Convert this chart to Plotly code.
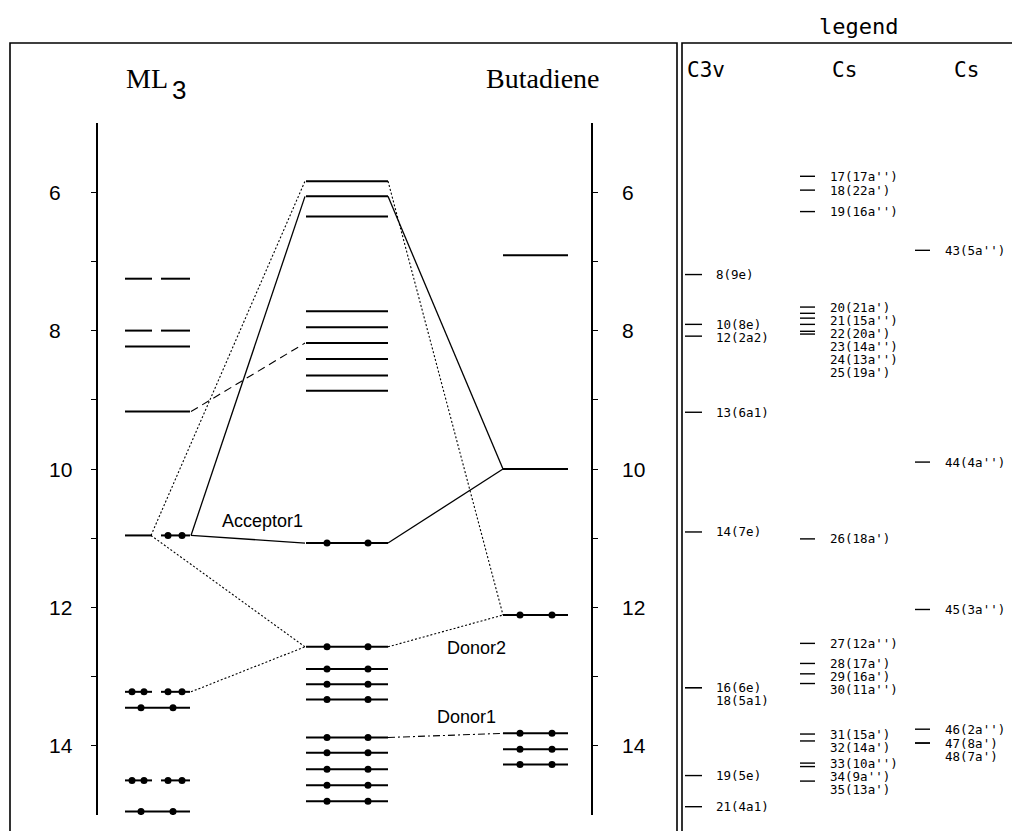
import plotly.graph_objects as go

W, H = 1012, 831

# ---------------- data ----------------
# ML3 fragment orbitals (energy, degenerate e-pair?, electrons)
ml3_energy = [7.25, 8.00, 8.23, 9.17, 10.96, 13.22, 13.45, 14.50, 14.95]
ml3_degenerate = [True, True, False, False, True, True, False, True, False]
ml3_electrons = [0, 0, 0, 0, 2, 4, 2, 4, 2]

# complex orbitals (middle column)
complex_energy = [5.84, 6.06, 6.35, 7.72, 7.95, 8.18, 8.41, 8.65, 8.87,
                  11.07, 12.57, 12.89, 13.11, 13.33, 13.88, 14.10, 14.34, 14.57, 14.80]
complex_electrons = [0, 0, 0, 0, 0, 0, 0, 0, 0,
                     2, 2, 2, 2, 2, 2, 2, 2, 2, 2]

# butadiene fragment orbitals
butadiene_energy = [6.91, 10.00, 12.11, 13.82, 14.05, 14.27]
butadiene_electrons = [0, 0, 2, 2, 2, 2]

axis_ticks = [6, 8, 10, 12, 14]
minor_ticks = [7, 9, 11, 13]

# correlation lines: (col, level, side) -> (col, level, side), style
correlations = [
    ("ml3", 4, "inner", "cx", 0, "left", "dot"),
    ("ml3", 4, "inner", "cx", 10, "left", "dot"),
    ("ml3", 4, "right", "cx", 1, "left", "solid"),
    ("ml3", 4, "right", "cx", 9, "left", "solid"),
    ("cx", 9, "right", "bd", 1, "left", "solid"),
    ("cx", 1, "right", "bd", 1, "left", "solid"),
    ("cx", 0, "right", "bd", 2, "left", "dot"),
    ("cx", 10, "right", "bd", 2, "left", "dot"),
    ("ml3", 5, "right", "cx", 10, "left", "dot"),
    ("cx", 14, "right", "bd", 3, "left", "dashdot"),
    ("ml3", 3, "right", "cx", 5, "left", "dash"),
]

orbital_labels = ["Acceptor1", "Donor2", "Donor1"]
orbital_label_energy = [10.75, 12.59, 13.59]

# legend columns
legend_title = "legend"
group_headers = ["C3v", "Cs", "Cs"]
c3v_labels = ["8(9e)", "10(8e)", "12(2a2)", "13(6a1)", "14(7e)", "16(6e)",
              "18(5a1)", "19(5e)", "21(4a1)"]
c3v_energy = [7.19, 7.91, 8.08, 9.18, 10.91, 13.16, 13.16, 14.43, 14.88]
cs1_labels = ["17(17a'')", "18(22a')", "19(16a'')", "20(21a')", "21(15a'')",
              "22(20a')", "23(14a'')", "24(13a'')", "25(19a')", "26(18a')",
              "27(12a'')", "28(17a')", "29(16a')", "30(11a'')", "31(15a')",
              "32(14a')", "33(10a'')", "34(9a'')", "35(13a')"]
cs1_energy = [5.77, 5.97, 6.28, 7.66, 7.75, 7.82, 7.91, 8.01, 8.05, 11.01,
              12.52, 12.81, 12.96, 13.10, 13.83, 13.93, 14.25, 14.30, 14.51]
cs2_labels = ["43(5a'')", "44(4a'')", "45(3a'')", "46(2a'')", "47(8a')", "48(7a')"]
cs2_energy = [6.84, 9.90, 12.03, 13.76, 13.96, 13.96]

# ---------------- layout constants (pixels) ----------------
ML3_X = (125, 190)
ML3_SPLIT = ((125, 152), (161, 190))
ML3_PAIR_DOTS = ((132, 144), (168, 182))
ML3_SINGLE_DOTS = (141, 173)
CX_X = (306, 388)
CX_DOTS = (327, 368)
BD_X = (503, 568)
BD_DOTS = (520, 552)
ANCHOR_X = {("ml3", "inner"): 151, ("ml3", "right"): 191,
            ("cx", "left"): 305, ("cx", "right"): 388,
            ("bd", "left"): 503}
ENERGY = {"ml3": ml3_energy, "cx": complex_energy, "bd": butadiene_energy}
DASHES = {"solid": "solid", "dot": "2px,2px", "dash": "8px,5px",
          "dashdot": "7px,3px,2px,3px"}
LABEL_POS_X = [262, 476, 466]
LEG_DASH_X = [(685, 702), (800, 815), (915, 930)]
LEG_TEXT_X = [714, 828, 943]
LEG_HEAD_X = [685, 830, 952]
LABEL_GAP = 0.19

AX_TOP, AX_BOT = 123, 815
E_TOP, E_BOT = 5.0, 15.0


def py(p):
    return 1 - p / H


def px(p):
    return p / W


fig = go.Figure()

# ---------- level lines ----------
lx, ly = [], []
dx, dy = [], []
for e, deg, n in zip(ml3_energy, ml3_degenerate, ml3_electrons):
    if deg:
        for seg in ML3_SPLIT:
            lx += [seg[0], seg[1], None]
            ly += [e, e, None]
        if n == 4:
            for pair in ML3_PAIR_DOTS:
                dx += list(pair); dy += [e, e]
        elif n == 2:
            dx += list(ML3_PAIR_DOTS[1]); dy += [e, e]
    else:
        lx += [ML3_X[0], ML3_X[1], None]
        ly += [e, e, None]
        if n == 2:
            dx += list(ML3_SINGLE_DOTS); dy += [e, e]

for e, n in zip(complex_energy, complex_electrons):
    lx += [CX_X[0], CX_X[1], None]
    ly += [e, e, None]
    if n == 2:
        dx += list(CX_DOTS); dy += [e, e]

for e, n in zip(butadiene_energy, butadiene_electrons):
    lx += [BD_X[0], BD_X[1], None]
    ly += [e, e, None]
    if n == 2:
        dx += list(BD_DOTS); dy += [e, e]

# ---------- correlation lines ----------
for c1, i1, s1, c2, i2, s2, style in correlations:
    fig.add_trace(go.Scatter(
        x=[ANCHOR_X[(c1, s1)], ANCHOR_X[(c2, s2)]],
        y=[ENERGY[c1][i1], ENERGY[c2][i2]],
        mode="lines",
        line=dict(color="black", width=1.1 if style != "solid" else 1.3,
                  dash=DASHES[style]),
        hoverinfo="skip", showlegend=False))

fig.add_trace(go.Scatter(x=lx, y=ly, mode="lines",
                         line=dict(color="black", width=2),
                         hoverinfo="skip", showlegend=False))
fig.add_trace(go.Scatter(x=dx, y=dy, mode="markers",
                         marker=dict(color="black", size=7),
                         hoverinfo="skip", showlegend=False))

# ---------- legend panel ----------
annotations = []
legend_groups = [(c3v_labels, c3v_energy), (cs1_labels, cs1_energy),
                 (cs2_labels, cs2_energy)]
gx, gy = [], []
for k, (labels, energies) in enumerate(legend_groups):
    prev = None
    for lab, e in zip(labels, energies):
        gx += [LEG_DASH_X[k][0], LEG_DASH_X[k][1], None]
        gy += [e, e, None]
        le = e if prev is None else max(e, prev + LABEL_GAP)
        prev = le
        annotations.append(dict(x=LEG_TEXT_X[k], y=le, xref="x", yref="y",
                                text=lab, showarrow=False, xanchor="left",
                                yanchor="middle",
                                font=dict(family="DejaVu Sans Mono", size=12.5,
                                          color="black")))
    annotations.append(dict(x=px(LEG_HEAD_X[k]), y=py(70), xref="paper",
                            yref="paper", text=group_headers[k],
                            showarrow=False, xanchor="left", yanchor="middle",
                            font=dict(family="DejaVu Sans Mono", size=21,
                                      color="black")))
fig.add_trace(go.Scatter(x=gx, y=gy, mode="lines",
                         line=dict(color="black", width=1.4),
                         hoverinfo="skip", showlegend=False))

annotations.append(dict(x=px(817), y=py(26), xref="paper", yref="paper",
                        text=legend_title, showarrow=False, xanchor="left",
                        yanchor="middle",
                        font=dict(family="DejaVu Sans Mono", size=22,
                                  color="black")))

# orbital labels
for t, e, x in zip(orbital_labels, orbital_label_energy, LABEL_POS_X):
    annotations.append(dict(x=x, y=e, xref="x", yref="y", text=t,
                            showarrow=False, xanchor="center",
                            yanchor="middle",
                            font=dict(family="Liberation Sans", size=18,
                                      color="black")))

# tick labels (left-aligned like the original)
for t in axis_ticks:
    for xl in (47, 620):
        annotations.append(dict(x=xl, y=t, xref="x", yref="y", text=str(t),
                                showarrow=False, xanchor="left",
                                yanchor="middle",
                                font=dict(family="Liberation Sans", size=21,
                                          color="black")))

# titles
annotations.append(dict(x=px(124), y=py(78), xref="paper", yref="paper",
                        text="ML", showarrow=False, xanchor="left",
                        yanchor="middle",
                        font=dict(family="Liberation Serif", size=28,
                                  color="black")))
annotations.append(dict(x=px(170), y=py(90), xref="paper", yref="paper",
                        text="3", showarrow=False, xanchor="left",
                        yanchor="middle",
                        font=dict(family="Liberation Sans", size=26,
                                  color="black")))
annotations.append(dict(x=px(543), y=py(78), xref="paper", yref="paper",
                        text="Butadiene", showarrow=False, xanchor="center",
                        yanchor="middle",
                        font=dict(family="Liberation Serif", size=28,
                                  color="black")))

# panels
shapes = [
    dict(type="rect", xref="paper", yref="paper", x0=px(10), x1=px(677),
         y0=-0.1, y1=py(43), line=dict(color="black", width=1.6)),
    dict(type="rect", xref="paper", yref="paper", x0=px(682), x1=1.1,
         y0=-0.1, y1=py(43), line=dict(color="black", width=1.6)),
]

all_ticks = sorted(axis_ticks + minor_ticks)
yaxis_common = dict(range=[E_BOT, E_TOP], domain=[py(AX_BOT), py(AX_TOP)],
                    showline=True, linecolor="black", linewidth=1.5,
                    ticks="outside", ticklen=5, tickwidth=1.3,
                    tickcolor="black", tickvals=all_ticks,
                    showticklabels=False, showgrid=False, zeroline=False,
                    anchor="free")

fig.add_trace(go.Scatter(x=[None], y=[None], yaxis="y2", showlegend=False,
                         hoverinfo="skip"))

fig.update_layout(
    width=W, height=H,
    margin=dict(l=0, r=0, t=0, b=0),
    paper_bgcolor="white", plot_bgcolor="rgba(0,0,0,0)",
    showlegend=False,
    xaxis=dict(range=[0, W], domain=[0, 1], visible=False, fixedrange=True),
    yaxis=dict(**yaxis_common, side="left", position=px(97)),
    yaxis2=dict(**yaxis_common, side="right", position=px(592),
                overlaying="y"),
    annotations=annotations,
    shapes=shapes,
)

fig.write_html("out.html")
